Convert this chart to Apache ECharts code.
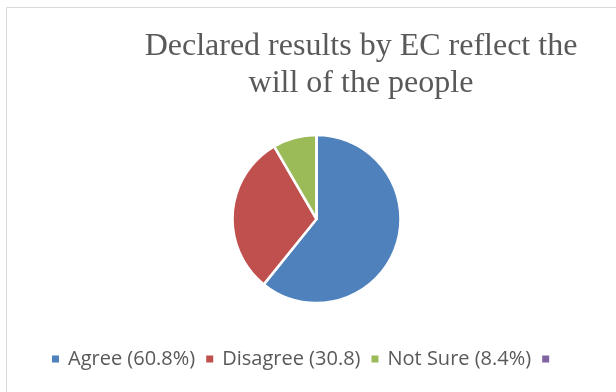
<!DOCTYPE html>
<html><head><meta charset="utf-8">
<script src="https://cdn.jsdelivr.net/npm/echarts@6/dist/echarts.min.js"></script>
<style>html,body{margin:0;padding:0;background:#fff}#c{width:616px;height:392px}</style>
</head><body><div id="c"></div>
<script>
const titleText = 'Declared results by EC reflect the\nwill of the people';
const categories = ['Agree (60.8%)', 'Disagree (30.8)', 'Not Sure (8.4%)', ' '];
const values = [60.8, 30.8, 8.4, 0];
const colors = ['#4F81BD', '#C0504D', '#9BBB59', '#8064A2'];

const chart = echarts.init(document.getElementById('c'));
chart.setOption({
  animation: false,
  color: colors,
  graphic: [{
    type: 'rect', shape: {x: 6.5, y: 7.5, width: 640, height: 420},
    style: {fill: 'none', stroke: '#d9d9d9', lineWidth: 1}, silent: true
  }],
  title: {
    text: titleText, left: 356, top: 23, textAlign: 'center',
    textStyle: {fontFamily: 'Liberation Serif', fontWeight: 'normal', fontSize: 32, color: '#595959', lineHeight: 37}
  },
  legend: {
    top: 344, left: 45, itemWidth: 9, itemHeight: 9, itemGap: 9, icon: 'rect',
    data: categories,
    textStyle: {fontFamily: 'Open Sans', fontSize: 20, color: '#595959', padding: [0, 0, 0, 3]}
  },
  series: [{
    type: 'pie', radius: 84, center: [316.5, 219], startAngle: 90, clockwise: true,
    label: {show: false}, labelLine: {show: false},
    itemStyle: {borderColor: '#fff', borderWidth: 2.5},
    data: categories.map((n, i) => ({name: n, value: values[i]}))
  }]
});
</script></body></html>
